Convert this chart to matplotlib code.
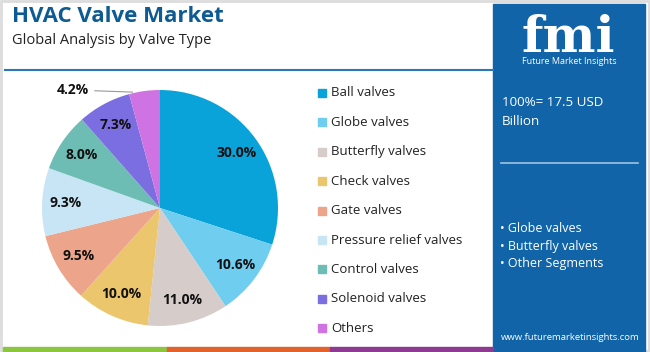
import matplotlib
matplotlib.use("Agg")
import matplotlib.pyplot as plt
import numpy as np

# data
segments = ["Ball valves", "Globe valves", "Butterfly valves", "Check valves", "Gate valves",
            "Pressure relief valves", "Control valves", "Solenoid valves", "Others"]
shares = [30.0, 10.6, 11.0, 10.0, 9.5, 9.3, 8.0, 7.3, 4.2]
colors = ["#0aa3d9", "#6fcdf0", "#d6ccc9", "#ecc66d", "#eca58b", "#c7e5f4", "#6dbdb5", "#7b6ee0", "#cf73e3"]
key_segments = ["Globe valves", "Butterfly valves", "Other Segments"]
total_text = "100%= 17.5 USD\nBillion"

W, H = 650, 352
fig = plt.figure(figsize=(6.5, 3.52), dpi=100)
plt.rcParams['font.family'] = ['Open Sans', 'DejaVu Sans']


def fx(x):
    return x / W


def fy(y):
    return 1 - y / H


# background / frame
bg = fig.add_axes([0, 0, 1, 1])
bg.set_xlim(0, W)
bg.set_ylim(H, 0)
bg.axis("off")
bg.add_patch(plt.Rectangle((1, 1), W - 2, H - 2, fill=False, ec="#dcdcdc", lw=2))
panel_c = "#1064a7"
bg.add_patch(plt.Rectangle((493, 4), 152, H - 4, color=panel_c))
# bottom strip
bg.add_patch(plt.Rectangle((3, 347), 164, 5, color="#8cc63f"))
bg.add_patch(plt.Rectangle((167, 347), 163, 5, color="#e2622d"))
bg.add_patch(plt.Rectangle((330, 347), 163, 5, color="#8c3b90"))
# header line
bg.plot([5, 493], [70, 70], color="#2a78b5", lw=1.5)

# titles
bg.text(12, 17, "HVAC Valve Market", fontsize=16, fontweight="bold", color="#0d5b93", va="center")
bg.text(12, 41, "Global Analysis by Valve Type", fontsize=10.5, color="#222222", va="center")

# logo
bg.text(568, 52, "fmi", fontsize=36, fontweight="bold", family="DejaVu Serif", color="white",
        ha="center", va="baseline")
for yy in np.arange(19, 52, 3.0):
    bg.plot([512, 625], [yy, yy], color=panel_c, lw=0.6)
bg.text(569, 62, "Future Market Insights", fontsize=6.5, color="white", ha="center", va="center")

# side panel text
bg.text(502, 112, total_text, fontsize=9.6, color="white", va="center", linespacing=1.65)
bg.plot([501, 638], [163, 163], color="#9fc3e2", lw=1.2)
for i, s in enumerate(key_segments):
    bg.text(500, 229 + i * 17.3, "\u2022 " + s, fontsize=9, color="white", va="center")
bg.text(570, 337, "www.futuremarketinsights.com", fontsize=6.8, color="white", ha="center", va="center")

# pie
cx, cy, r = 160, 208, 118
ax = fig.add_axes([fx(cx - r), fy(cy + r), 2 * r / W, 2 * r / H])
wedges, _ = ax.pie(shares, colors=colors, startangle=90, counterclock=False, radius=1,
                   wedgeprops=dict(linewidth=0))
ax.set_xlim(-1, 1)
ax.set_ylim(-1, 1)
ax.set_aspect("auto")

for w, v in zip(wedges[:-1], shares[:-1]):
    ang = np.deg2rad((w.theta1 + w.theta2) / 2)
    ax.text(0.8 * np.cos(ang), 0.8 * np.sin(ang), f"{v:.1f}%", ha="center", va="center",
            fontsize=10, fontweight="bold", color="#111111")

w = wedges[-1]
ang = np.deg2rad((w.theta1 + w.theta2) / 2)
ax.annotate(f"{shares[-1]:.1f}%", xy=(np.cos(ang) * 0.98 - 0.08, np.sin(ang) * 0.99), xytext=(-0.6, 1.0),
            ha="right", va="center", fontsize=10, fontweight="bold", color="#111111",
            arrowprops=dict(arrowstyle="-", color="#999999", lw=0.8), annotation_clip=False)

# legend
for i, (s, c) in enumerate(zip(segments, colors)):
    y = 93 + i * 29.4
    bg.add_patch(plt.Rectangle((318, y - 4), 8, 8, color=c))
    bg.text(331, y, s, fontsize=9.5, color="#222222", va="center")

fig.savefig("out.png", dpi=100)
